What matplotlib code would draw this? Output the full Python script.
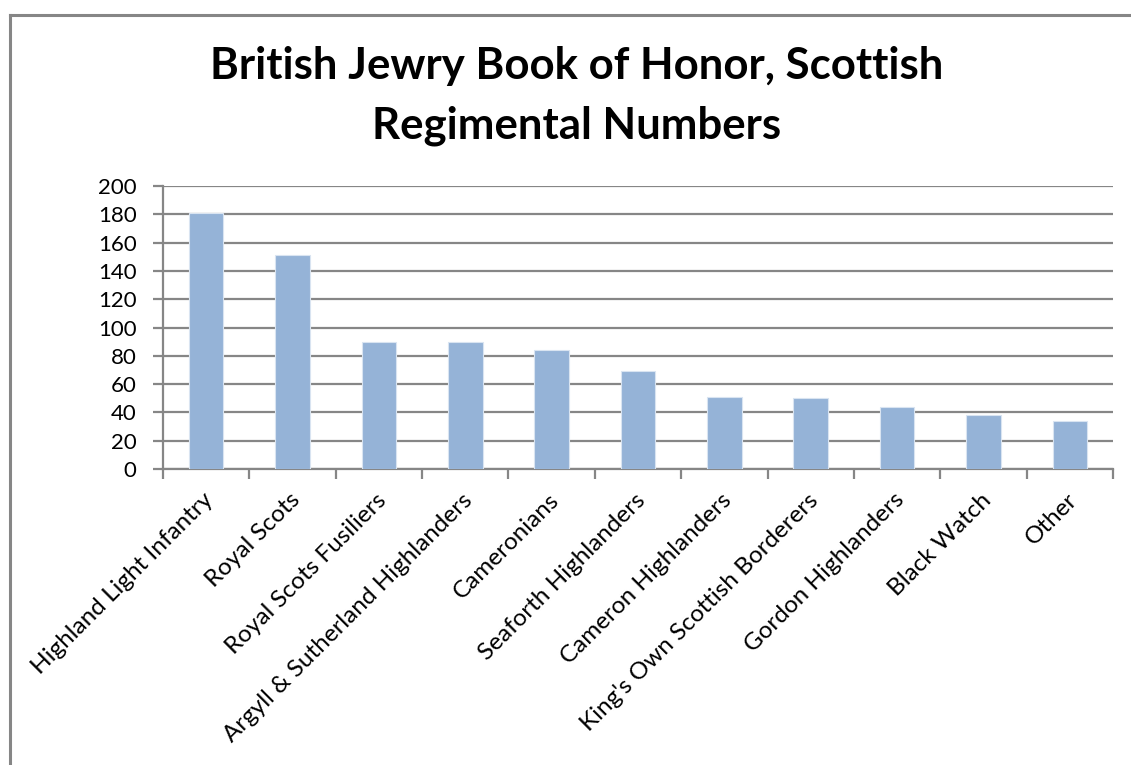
import matplotlib.pyplot as plt
import numpy as np
from matplotlib.lines import Line2D
from matplotlib.transforms import ScaledTranslation

# Chart data
regiments = [
    "Highland Light Infantry",
    "Royal Scots",
    "Royal Scots Fusiliers",
    "Argyll & Sutherland Highlanders",
    "Cameronians",
    "Seaforth Highlanders",
    "Cameron Highlanders",
    "King's Own Scottish Borderers",
    "Gordon Highlanders",
    "Black Watch",
    "Other",
]
counts = [181, 151, 90, 90, 84, 69, 51, 50, 44, 38, 34]
y_ticks = list(range(0, 201, 20))

BAR_COLOR = "#95B3D7"
GRID_COLOR = "#868686"
FONT = "Lato"

W, H = 1131, 765
fig = plt.figure(figsize=(W / 100, H / 100), dpi=100)

# outer chart frame (only top and left visible in the reference)
fig.add_artist(Line2D([10 / W, 10 / W], [0, 1 - 15 / H], color=GRID_COLOR, lw=2.2,
                      transform=fig.transFigure))
fig.add_artist(Line2D([10 / W, 1], [1 - 15 / H, 1 - 15 / H], color=GRID_COLOR, lw=2.2,
                      transform=fig.transFigure))

ax = fig.add_axes([163 / W, 1 - 469 / H, (1113 - 163) / W, (469 - 186) / H])

x = np.arange(len(regiments))
ax.bar(x, counts, width=0.4, color=BAR_COLOR, edgecolor="#D9E4F1", linewidth=0.8, zorder=3)

ax.set_xlim(-0.5, len(regiments) - 0.5)
ax.set_ylim(0, 200)
ax.set_yticks(y_ticks)
ax.set_yticklabels([str(v) for v in y_ticks], fontsize=16, fontfamily=FONT)
ax.yaxis.grid(True, color=GRID_COLOR, linewidth=1.6, zorder=0)
ax.set_axisbelow(True)

# category boundaries as ticks, labels at centres
ax.set_xticks(np.arange(len(regiments) + 1) - 0.5)
ax.set_xticklabels([])
ax.set_xticks(x, minor=True)
ax.set_xticklabels(regiments, minor=True, rotation=45, ha="right", va="center",
                   rotation_mode="anchor", fontsize=17.5, fontfamily=FONT)
ax.tick_params(axis="x", which="minor", length=0, pad=20)
ax.tick_params(axis="x", which="major", length=7, width=1.6, color=GRID_COLOR, direction="out")
ax.tick_params(axis="y", length=7, width=1.6, color=GRID_COLOR, direction="out", pad=12)

# nudge the rotated labels a little to the right
shift = ScaledTranslation(4 / 100, 0, fig.dpi_scale_trans)
for lbl in ax.get_xticklabels(minor=True):
    lbl.set_transform(lbl.get_transform() + shift)

for side in ["top", "right"]:
    ax.spines[side].set_visible(False)
for side in ["left", "bottom"]:
    ax.spines[side].set_color(GRID_COLOR)
    ax.spines[side].set_linewidth(1.6)

fig.text(577 / W, 1 - 66 / H, "British Jewry Book of Honor, Scottish", ha="center", va="center",
         fontsize=31.5, fontweight="bold", fontfamily=FONT)
fig.text(577 / W, 1 - 126 / H, "Regimental Numbers", ha="center", va="center",
         fontsize=31.5, fontweight="bold", fontfamily=FONT)

fig.savefig("out.png", dpi=100)
